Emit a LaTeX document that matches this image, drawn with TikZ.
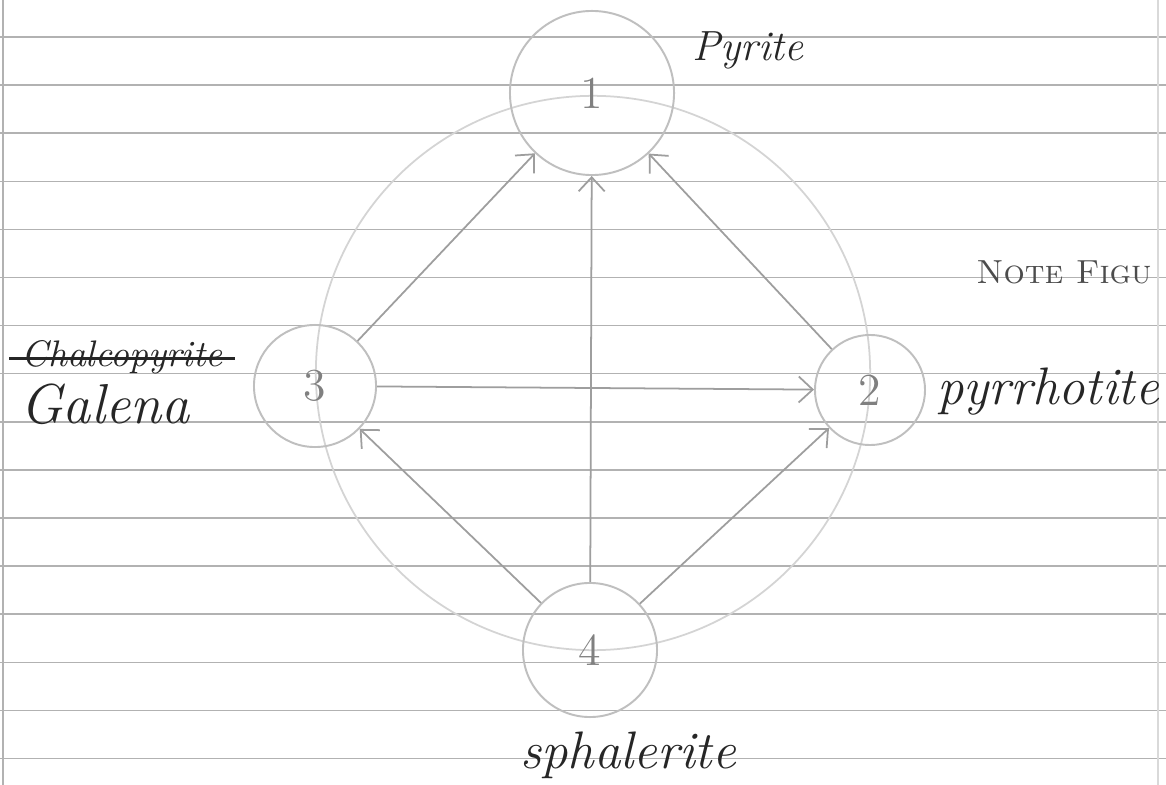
\documentclass[tikz,border=0pt]{standalone}
\usepackage{tikz}
\usetikzlibrary{arrows.meta}

\begin{document}
\begin{tikzpicture}[x=0.01cm, y=-0.01cm,
    rule/.style={draw=black!30, line width=0.45pt},
    mineral/.style={circle, draw=black!25, line width=0.55pt, inner sep=0pt, text=black!50, font=\fontsize{13}{13}\selectfont},
    link/.style={draw=black!38, line width=0.5pt, -{Straight Barb[length=1.4mm,width=2.6mm]}},
    hand/.style={text=black!85, font=\fontsize{#1}{#1}\selectfont\itshape},
]
\fill[white] (0,0) rectangle (1166,785);
\useasboundingbox (0,0) rectangle (1166,785);
% ruled paper
\foreach \k in {0,...,15} {
    \draw[rule] (0,37+48.1*\k) -- (1166,37+48.1*\k);
}
\draw[rule] (3,0) -- (3,785);
\draw[black!15, line width=0.45pt] (1158,0) -- (1158,785);

% big circle behind
\draw[black!17, line width=0.5pt] (593,373) circle [radius=2.77cm];

% minerals
\node[mineral, minimum size=1.64cm] (m1) at (592,93) {1};
\node[mineral, minimum size=1.10cm] (m2) at (870,390) {2};
\node[mineral, minimum size=1.22cm] (m3) at (315,386) {3};
\node[mineral, minimum size=1.34cm] (m4) at (590,650) {4};

% arrows
\draw[link] (m3) -- (m1);
\draw[link] (m4) -- (m1);
\draw[link] (m2) -- (m1);
\draw[link] (m3) -- (m2);
\draw[link] (m4) -- (m3);
\draw[link] (m4) -- (m2);

% names
\node[hand=12] (pyr) at (748,50) {Pyrite};
\node[hand=15] (pyrr) at (1048,392) {pyrrhotite};
\node[hand=10.5] (chalco) at (122,357) {Chalcopyrite};
\draw[black!85, line width=0.7pt] ([yshift=2.2pt]chalco.base west) -- ([yshift=2.2pt]chalco.base east);
\node[hand=16] (gal) at (105,404) {Galena};
\node[hand=15] (sph) at (628,755) {sphalerite};
\node[anchor=east, text=black!70, font=\fontsize{9.5}{9.5}\selectfont\scshape] (note) at (1164,272) {Note Figu};
\end{tikzpicture}
\end{document}
